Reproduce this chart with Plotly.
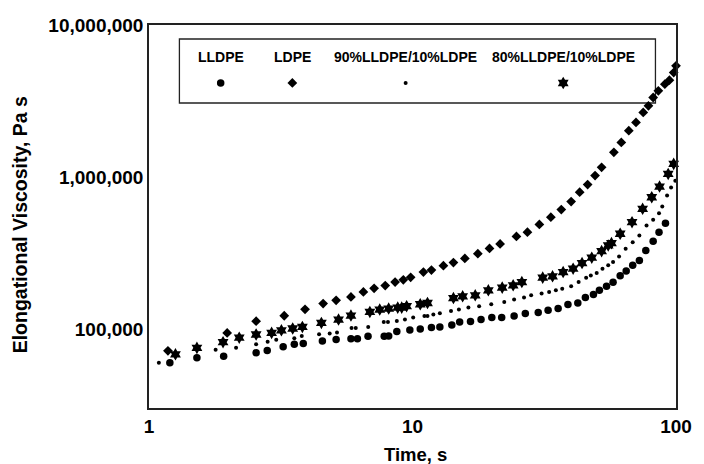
import plotly.graph_objects as go

# ---------------- data ----------------
series_names = ["LLDPE", "LDPE", "90%LLDPE/10%LDPE", "80%LLDPE/10%LDPE"]

lldpe_t = [1.20, 1.52, 1.92, 2.55, 2.81, 3.23, 3.56, 3.85, 4.55, 5.13,
           5.84, 6.18, 6.78, 7.81, 8.12, 8.72, 9.77, 10.7, 11.8, 12.7,
           14.1, 15.1, 16.6, 18.2, 20.0, 21.8, 24.3, 26.8, 30.0, 32.7,
           35.7, 38.9, 42.4, 45.3, 48.6, 51.2, 54.5, 57.7, 61.4, 64.7,
           68.5, 72.6, 76.8, 81.9, 86.2, 91.2]
lldpe_eta = [60100, 64900, 66500, 70000, 72500, 76800, 79700, 80500, 83800, 85600,
             86400, 86400, 90000, 90000, 90300, 96600, 98900, 100400, 102600, 103500,
             106600, 111700, 112300, 115800, 119300, 119300, 122200, 126800, 128700, 133300,
             136700, 145200, 148700, 161400, 168900, 180200, 191400, 203300, 224900, 241000,
             263000, 283300, 329600, 379300, 434500, 497700]

ldpe_t = [1.18, 1.98, 2.55, 3.26, 3.91, 4.58, 5.13, 5.84, 6.51, 7.15,
          7.88, 8.59, 9.23, 9.84, 11.0, 11.8, 13.1, 14.3, 15.8, 17.7,
          19.6, 21.5, 24.8, 27.3, 30.3, 33.5, 36.7, 40.0, 43.1, 46.2,
          49.3, 52.2, 58.1, 62.0, 66.2, 70.5, 75.1, 78.6, 81.9, 85.7,
          90.7, 94.4, 98.0, 100.0]
ldpe_eta = [72100, 94600, 112900, 122600, 135200, 147400, 155000, 162900, 175700, 185700,
            193700, 204000, 211100, 219300, 237500, 244700, 261600, 274200, 292200, 313600,
            339700, 363700, 407400, 434500, 488100, 545000, 612300, 690600, 795200, 893000,
            1023000, 1159000, 1455000, 1691000, 2018000, 2288000, 2660000, 2943000, 3337000, 3690000,
            4085000, 4339000, 4867000, 5387000]

blend90_t = [1.09, 1.79, 2.14, 2.55, 2.82, 3.04, 3.56, 3.80, 4.42, 4.85,
             5.17, 5.87, 6.09, 6.79, 7.78, 8.07, 8.72, 9.36, 10.06, 11.1,
             11.4, 12.0, 12.7, 14.0, 15.0, 16.3, 17.9, 19.9, 22.3, 24.3,
             26.5, 28.2, 30.9, 33.0, 35.0, 37.0, 40.0, 42.7, 45.6, 47.5,
             50.0, 52.6, 55.3, 57.7, 60.8, 64.4, 68.5, 72.6, 77.3, 81.9,
             86.2, 88.7, 92.5, 95.8, 99.4]
blend90_eta = [60100, 73400, 75600, 79700, 82600, 85300, 87300, 90300, 92700, 93700,
               95100, 102000, 102000, 103500, 111600, 111600, 113300, 115800, 119300, 122200,
               122200, 124800, 127300, 131800, 134600, 138700, 141600, 145900, 151000, 156600,
               161400, 167100, 171400, 175700, 180200, 184800, 191400, 204200, 218300, 225900,
               233900, 250000, 263000, 276300, 301000, 338000, 373500, 413400, 480800, 524000,
               579000, 640700, 756000, 853000, 948000]

blend80_t = [1.26, 1.52, 1.91, 2.20, 2.55, 2.92, 3.18, 3.51, 3.82, 4.51,
             5.24, 5.84, 6.89, 7.51, 8.12, 8.79, 9.10, 9.50, 10.7, 11.4,
             14.3, 15.5, 17.3, 19.4, 21.9, 24.1, 26.0, 31.2, 34.0, 37.3,
             40.7, 44.0, 47.9, 52.2, 55.3, 56.9, 61.4, 68.1, 74.7, 80.9,
             86.6, 93.4, 98.0]
blend80_eta = [68400, 75400, 82200, 87900, 92300, 94600, 98400, 101100, 103500, 110000,
               115800, 122900, 129800, 134600, 136700, 138700, 138700, 141600, 145900, 148700,
               160300, 164600, 167100, 180200, 187700, 194300, 204200, 218300, 222700, 237500,
               250000, 272300, 295100, 326000, 355600, 368000, 424300, 505500, 618800, 737300,
               866700, 1049000, 1222000]

x_tickvals = [1, 10, 100]
x_ticktext = ["1", "10", "100"]
y_tickvals = [1e5, 1e6, 1e7]
y_ticktext = ["100,000", "1,000,000", "10,000,000"]

# ---------------- styles ----------------
FONT = "Liberation Sans, Arial, sans-serif"
symbols = ["circle", "diamond", "circle", "hexagram"]
sizes = [7.5, 7.5, 4, 9.5]
legend_x = [0.136, 0.272, 0.487, 0.786]   # legend column centres (plot-area fraction)

fig = go.Figure()
all_x = [lldpe_t, ldpe_t, blend90_t, blend80_t]
all_y = [lldpe_eta, ldpe_eta, blend90_eta, blend80_eta]
for name, xs, ys, sym, sz in zip(series_names, all_x, all_y, symbols, sizes):
    fig.add_trace(go.Scatter(
        x=xs, y=ys, mode="markers", name=name, showlegend=False,
        cliponaxis=False,
        marker=dict(symbol=sym, size=sz, color="black", opacity=1, line=dict(width=0)),
    ))

# legend markers on an overlay axis
for sym, sz, lx in zip(symbols, sizes, legend_x):
    fig.add_trace(go.Scatter(
        x=[lx], y=[0.8486], xaxis="x2", yaxis="y2",
        mode="markers", showlegend=False, hoverinfo="skip", cliponaxis=False,
        marker=dict(symbol=sym, size=sz, color="black", opacity=1, line=dict(width=0)),
    ))

annotations = []
for name, lx in zip(series_names, legend_x):
    annotations.append(dict(
        x=lx, y=0.9164, xref="paper", yref="paper", text="<b>%s</b>" % name,
        showarrow=False, xanchor="center", yanchor="middle",
        font=dict(family=FONT, size=14, color="black"),
    ))
annotations.append(dict(
    x=0.505, y=-0.1227, xref="paper", yref="paper", text="<b>Time, s</b>",
    showarrow=False, xanchor="center", yanchor="middle",
    font=dict(family=FONT, size=18.5, color="black"),
))
annotations.append(dict(
    x=-0.244, y=0.478, xref="paper", yref="paper",
    text="<b>Elongational Viscosity, Pa s</b>", textangle=-90,
    showarrow=False, xanchor="center", yanchor="middle",
    font=dict(family=FONT, size=19.5, color="black"),
))

fig.update_layout(
    width=704, height=464,
    margin=dict(l=149, r=18, t=25, b=56),
    paper_bgcolor="white", plot_bgcolor="white",
    font=dict(family=FONT, color="black"),
    xaxis=dict(
        type="log", range=[0, 2], tickvals=x_tickvals, ticktext=["<b>%s</b>" % t for t in x_ticktext],
        showgrid=False, zeroline=False, showline=True, mirror=True,
        linecolor="#222", linewidth=1.5, ticks="",
        tickfont=dict(family=FONT, size=19, color="black"),
    ),
    yaxis=dict(
        type="log", range=[4.482, 7.0], tickvals=y_tickvals, ticktext=["<b>%s</b>" % t for t in y_ticktext],
        showgrid=False, zeroline=False, showline=True, mirror=True,
        linecolor="#222", linewidth=1.5, ticks="",
        tickfont=dict(family=FONT, size=19, color="black"),
    ),
    xaxis2=dict(overlaying="x", anchor="y2", range=[0, 1], visible=False, fixedrange=True),
    yaxis2=dict(overlaying="y", anchor="x2", range=[0, 1], visible=False, fixedrange=True),
    shapes=[dict(type="rect", xref="paper", yref="paper", layer="below",
                 x0=0.0577, x1=0.961, y0=0.7963, y1=0.9634,
                 line=dict(color="#222", width=1.3), fillcolor="rgba(0,0,0,0)")],
    annotations=annotations,
)

fig.write_html("out.html")
